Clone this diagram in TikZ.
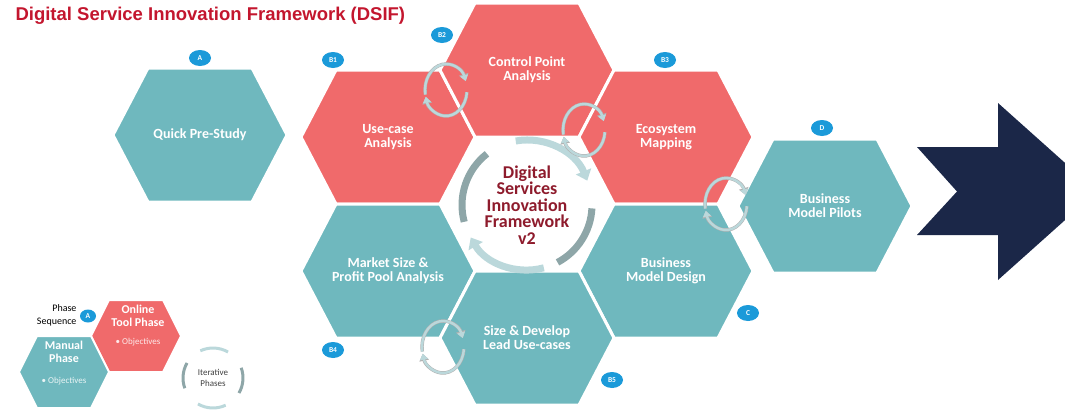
\documentclass[tikz,border=0pt]{standalone}
\usepackage{fontspec}
\setmainfont{Carlito}
\newfontfamily\titlefont{Liberation Sans}
\usetikzlibrary{arrows.meta,shapes.geometric}

\definecolor{hexteal}{HTML}{6FB8BE}
\definecolor{hexred}{HTML}{F06A6B}
\definecolor{badgeblue}{HTML}{1B9AD9}
\definecolor{titlered}{HTML}{C3162E}
\definecolor{navyarrow}{HTML}{1B2748}
\definecolor{cycgrey}{HTML}{8EA6A8}
\definecolor{cyclight}{HTML}{BBD8DB}
\definecolor{coretext}{HTML}{8E1B2C}

\tikzset{
  hexlabel/.style={text=white, font=\bfseries\fontsize{14}{14}\selectfont, align=center},
  badge/.style={ellipse, fill=badgeblue, minimum width=22pt, minimum height=16pt, inner sep=0pt,
    text=white, font=\bfseries\fontsize{7.5}{8}\selectfont},
  cycarrow/.style={draw=cyclight, line width=2.4pt, -{Triangle[length=3pt 1.2, width=4pt 1.6]},
    preaction={draw=gray!60, line width=3.4pt}},
  ringarrow/.style={line width=7pt},
  cycicon/.pic={
    \draw[cycarrow] (190:21pt and 26pt) arc[start angle=190, end angle=20, x radius=21pt, y radius=26pt];
    \draw[cycarrow] (-5:21pt and 26pt) arc[start angle=-5, end angle=-165, x radius=21pt, y radius=26pt];
  }
}

\begin{document}
\begin{tikzpicture}[x=1pt, y=-1pt]
    \useasboundingbox (0,0) rectangle (1065,410);
    % title
    \node[anchor=west, text=titlered, font=\titlefont\bfseries\fontsize{18.5}{19}\selectfont] (title) at (12,16)
        {Digital Service Innovation Framework (DSIF)};
    % honeycomb
    \foreach \cx/\cy/\col/\nm/\txt in {
        200/135/hexteal/prestudy/{Quick Pre-Study},
        388/137/hexred/usecase/{Use-case\\Analysis},
        527/70/hexred/ctrlpoint/{Control Point\\Analysis},
        666/137/hexred/ecosys/{Ecosystem\\Mapping},
        388/271/hexteal/marketsize/{Market Size \&\\Profit Pool Analysis},
        666/271/hexteal/bmdesign/{Business\\Model Design},
        527/338/hexteal/sizelead/{Size \& Develop\\Lead Use-cases},
        825/206/hexteal/bmpilots/{Business\\Model Pilots}}
    {
        \fill[\col, draw=white, line width=3pt, shift={(\cx,\cy)}]
            (-87,0) -- (-52,-67) -- (52,-67) -- (87,0) -- (52,67) -- (-52,67) -- cycle;
        \node[hexlabel] (\nm) at (\cx,\cy) {\txt};
    }
    % centre
    \node[text=coretext, font=\bfseries\fontsize{18}{16.5}\selectfont, align=center] (core) at (527,205)
        {Digital\\Services\\Innovation\\Framework\\v2};
    \draw[ringarrow, cycgrey] ([shift={(195:65pt)}]core.center) arc[start angle=195, end angle=128, radius=65pt];
    \draw[ringarrow, cyclight, -{Triangle[length=10pt, width=16pt]}] ([shift={(100:65pt)}]core.center)
        arc[start angle=100, end angle=22, radius=65pt];
    \draw[ringarrow, cycgrey] ([shift={(-3:65pt)}]core.center) arc[start angle=-3, end angle=-62, radius=65pt];
    \draw[ringarrow, cyclight, -{Triangle[length=10pt, width=16pt]}] ([shift={(-75:65pt)}]core.center)
        arc[start angle=-75, end angle=-150, radius=65pt];
    % iteration icons
    \foreach \ix/\iy in {446/90, 584/130, 726/204, 443/347}
        \pic at (\ix,\iy) {cycicon};
    % badges
    \foreach \bx/\by/\bt in {200/58/A, 333/60/B1, 442/35/B2, 665/60/B3, 822/128/D, 748/313/C, 333/350/B4, 612/380/B5}
        \node[badge] (badge\bt) at (\bx,\by) {\bt};
    % next step arrow
    \fill[navyarrow] (917,147) -- (998,147) -- (998,103) -- (1097,191.5) -- (998,280)
        -- (998,235) -- (917,235) -- (957,191.5) -- cycle;
    % legend
    \fill[hexred, draw=white, line width=2pt, shift={(136,336)}]
        (-45,0) -- (-27,-36) -- (27,-36) -- (45,0) -- (27,36) -- (-27,36) -- cycle;
    \fill[hexteal, draw=white, line width=2pt, shift={(64,372)}]
        (-45,0) -- (-27,-36) -- (27,-36) -- (45,0) -- (27,36) -- (-27,36) -- cycle;
    \node[hexlabel, font=\bfseries\fontsize{12}{13}\selectfont] (onlinetool) at (138,316) {Online\\Tool Phase};
    \node[text=white!85!hexred, font=\fontsize{9}{10}\selectfont] (onlineobj) at (138,342) {\textbullet\ Objectives};
    \node[hexlabel, font=\bfseries\fontsize{12}{13}\selectfont] (manual) at (64,352) {Manual\\Phase};
    \node[text=white!85!hexteal, font=\fontsize{9}{10}\selectfont] (manualobj) at (64,381) {\textbullet\ Objectives};
    \node[anchor=east, align=right, font=\fontsize{10}{13}\selectfont] (phaseseq) at (80,315) {Phase\\Sequence};
    \node[badge, minimum width=16pt, minimum height=13pt] (legA) at (88,316) {A};
    \node[align=center, text=black!75, font=\fontsize{9}{11}\selectfont] (iter) at (213,378) {Iterative\\Phases};
    \draw[cycgrey, line width=3pt] ([shift={(200:30pt)}]iter.center) arc[start angle=200, end angle=150, radius=30pt];
    \draw[cyclight, line width=3pt] ([shift={(115:30pt)}]iter.center) arc[start angle=115, end angle=60, radius=30pt];
    \draw[cycgrey, line width=3pt] ([shift={(20:30pt)}]iter.center) arc[start angle=20, end angle=-30, radius=30pt];
    \draw[cyclight, line width=3pt] ([shift={(-65:30pt)}]iter.center) arc[start angle=-65, end angle=-120, radius=30pt];
\end{tikzpicture}
\end{document}
